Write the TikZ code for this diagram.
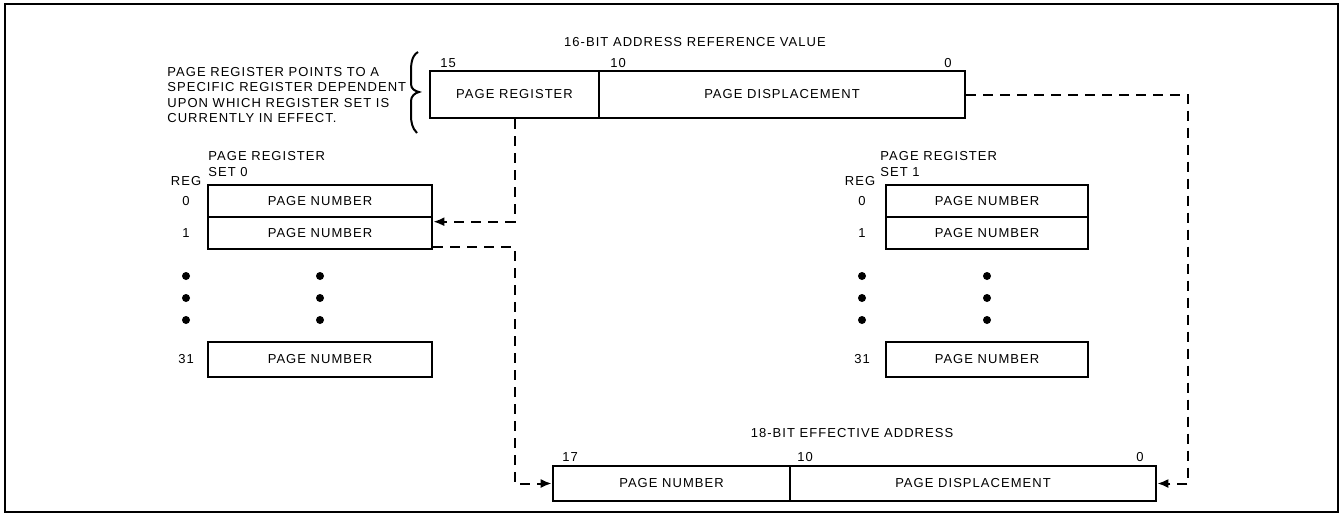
\documentclass[tikz,border=0pt]{standalone}
\usepackage{fontspec}
\setmainfont{Liberation Sans}[LetterSpace=8]
\usetikzlibrary{arrows.meta, calc, positioning}

\begin{document}
\begin{tikzpicture}[x = 0.5pt, y = -0.5pt, font = \fontsize{6.5}{7.75}\selectfont]
  \tikzset{>={Latex[length=5.5pt, width=4.5pt]},
    field/.style = {draw, line width = 1.3pt, inner sep = 0pt, minimum height = 16pt},
    link/.style = {line width = 1pt, dash pattern = on 5pt off 3.5pt},
    tag/.style = {inner sep = 0pt}}

  \useasboundingbox (0,0) rectangle (1343,525);
  \draw[line width = 1pt] (5,4) rectangle (1338,512);

  % 16-bit reference value
  \node[tag] (ttl) at (695,42) {16-BIT ADDRESS REFERENCE VALUE};
  \node[field, minimum width = 84.5pt, minimum height = 23.5pt] (preg) at (514.5,94.5) {PAGE REGISTER};
  \node[field, minimum width = 183pt, minimum height = 23.5pt] (pdisp) at (782,94.5) {PAGE DISPLACEMENT};
  \node[tag] (b15) at (448,63) {15};
  \node[tag] (b10) at (618,63) {10};
  \node[tag] (b0) at (948,63) {0};

  \node[tag, anchor = west, align = left] (note) at (167,95) {PAGE REGISTER POINTS TO A\\SPECIFIC REGISTER DEPENDENT\\UPON WHICH REGISTER SET IS\\CURRENTLY IN EFFECT.};
  \draw[line width = 1pt] (418,52) .. controls (411,56) and (411,66) .. (411,72) -- (411,84) .. controls (411,89) and (415,91) .. (419,92) .. controls (415,93) and (411,96) .. (411,101) -- (411,115) .. controls (411,122) and (412,128) .. (417,133);

  % register set 0
  \node[tag, anchor = south west, align = left, font = \fontsize{6.5}{8}\selectfont] (set0) at (208,177.5) {PAGE REGISTER\\SET 0};
  \node[tag] (reg0) at (186,181) {REG};
  \node[field, minimum width = 112pt] (s0a) at (320,201) {PAGE NUMBER};
  \node[field, minimum width = 112pt] (s0b) at (320,233) {PAGE NUMBER};
  \node[field, minimum width = 112pt, minimum height = 17.5pt] (s0z) at (320,359.5) {PAGE NUMBER};
  \node[tag] at (186,201) {0};
  \node[tag] at (186,233) {1};
  \node[tag] at (186,359.5) {31};

  % register set 1
  \node[tag, anchor = south west, align = left, font = \fontsize{6.5}{8}\selectfont] (set1) at (880,177.5) {PAGE REGISTER\\SET 1};
  \node[tag] (reg1) at (860,181) {REG};
  \node[field, minimum width = 101pt] (s1a) at (987,201) {PAGE NUMBER};
  \node[field, minimum width = 101pt] (s1b) at (987,233) {PAGE NUMBER};
  \node[field, minimum width = 101pt, minimum height = 17.5pt] (s1z) at (987,359.5) {PAGE NUMBER};
  \node[tag] at (862,201) {0};
  \node[tag] at (862,233) {1};
  \node[tag] at (862,359.5) {31};

  \foreach \y in {276,298,320} {
    \fill (186,\y) circle (2pt) (320,\y) circle (2pt);
    \fill (862,\y) circle (2pt) (987,\y) circle (2pt);
  }

  % 18-bit effective address
  \node[tag] (ettl) at (852,433) {18-BIT EFFECTIVE ADDRESS};
  \node[field, minimum width = 118.5pt, minimum height = 17.5pt] (epage) at (671.5,483.5) {PAGE NUMBER};
  \node[field, minimum width = 183pt, minimum height = 17.5pt] (edisp) at (973,483.5) {PAGE DISPLACEMENT};
  \node[tag] (e17) at (570,457) {17};
  \node[tag] (e10) at (805,457) {10};
  \node[tag] (e0) at (1140,457) {0};

  \draw[link, ->] (preg.south) |- ([yshift=-3pt]s0b.north east);
  \draw[link, ->] ([yshift=1.5pt]s0b.south east) -| (epage.west -| preg.south) -- (epage.west);
  \draw[link, ->] (pdisp.east) -| ([xshift=15.5pt]edisp.east) -- (edisp.east);
\end{tikzpicture}
\end{document}
